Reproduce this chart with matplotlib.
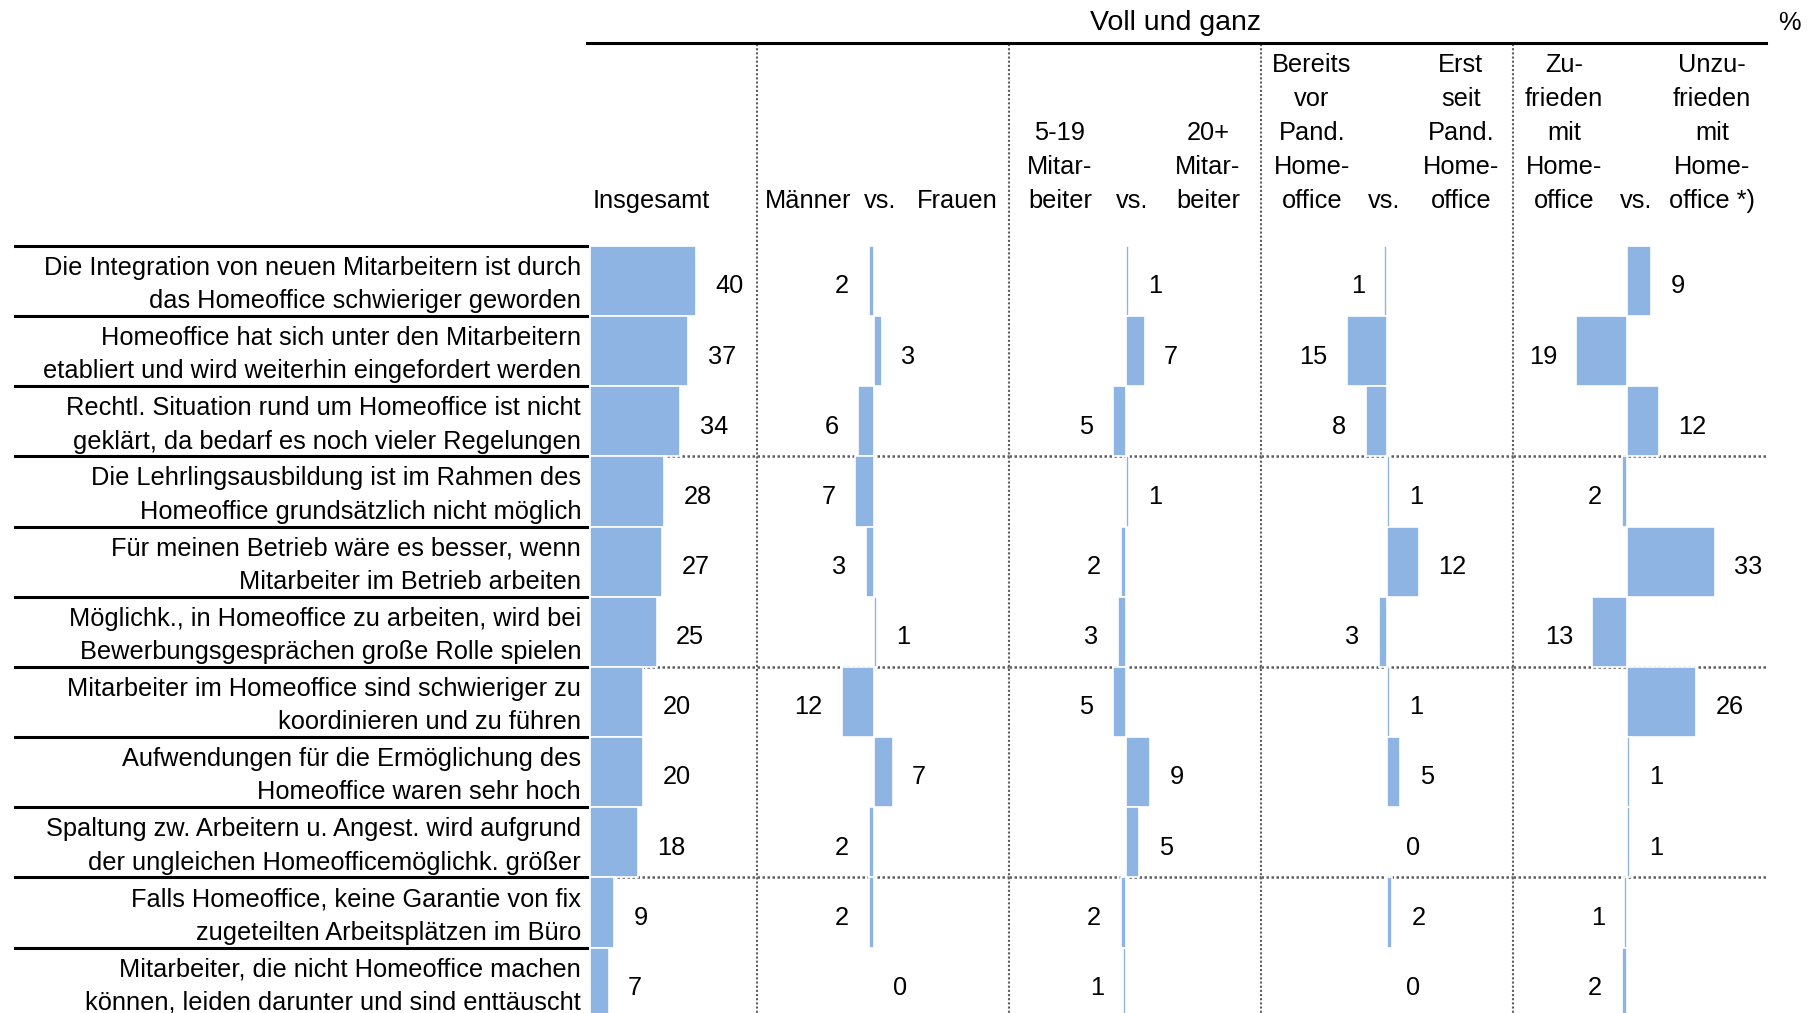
import matplotlib.pyplot as plt
from matplotlib.lines import Line2D

plt.rcParams['font.family'] = ['Liberation Sans', 'DejaVu Sans']

# Aussagen (Zeilen) und Werte in %
aussagen = [
    "Die Integration von neuen Mitarbeitern ist durch\ndas Homeoffice schwieriger geworden",
    "Homeoffice hat sich unter den Mitarbeitern\netabliert und wird weiterhin eingefordert werden",
    "Rechtl. Situation rund um Homeoffice ist nicht\ngeklärt, da bedarf es noch vieler Regelungen",
    "Die Lehrlingsausbildung ist im Rahmen des\nHomeoffice grundsätzlich nicht möglich",
    "Für meinen Betrieb wäre es besser, wenn\nMitarbeiter im Betrieb arbeiten",
    "Möglichk., in Homeoffice zu arbeiten, wird bei\nBewerbungsgesprächen große Rolle spielen",
    "Mitarbeiter im Homeoffice sind schwieriger zu\nkoordinieren und zu führen",
    "Aufwendungen für die Ermöglichung des\nHomeoffice waren sehr hoch",
    "Spaltung zw. Arbeitern u. Angest. wird aufgrund\nder ungleichen Homeofficemöglichk. größer",
    "Falls Homeoffice, keine Garantie von fix\nzugeteilten Arbeitsplätzen im Büro",
    "Mitarbeiter, die nicht Homeoffice machen\nkönnen, leiden darunter und sind enttäuscht",
]
insgesamt       = [40, 37, 34, 28, 27, 25, 20, 20, 18, 9, 7]
maenner_frauen  = [-2, 3, -6, -7, -3, 1, -12, 7, -2, -2, 0]
betriebsgroesse = [1, 7, -5, 1, -2, -3, -5, 9, 5, -2, -1]
pandemie        = [-1, -15, -8, 1, 12, -3, 1, 5, 0, 2, 0]
zufriedenheit   = [9, -19, 12, -2, 33, -13, 26, 1, 1, -1, -2]

# Kopfzeilen
kopf = [
    ("Insgesamt", 593, "left"),
    ("Männer", 808, "center"), ("vs.", 880, "center"), ("Frauen", 957, "center"),
    ("5-19\nMitar-\nbeiter", 1060, "center"), ("vs.", 1132, "center"),
    ("20+\nMitar-\nbeiter", 1208, "center"),
    ("Bereits\nvor\nPand.\nHome-\noffice", 1312, "center"), ("vs.", 1384, "center"),
    ("Erst\nseit\nPand.\nHome-\noffice", 1461, "center"),
    ("Zu-\nfrieden\nmit\nHome-\noffice", 1564, "center"), ("vs.", 1636, "center"),
    ("Unzu-\nfrieden\nmit\nHome-\noffice *)", 1712, "center"),
]

W, H = 1812, 1013
FS = 18.3
BLAU = "#8DB4E2"
TOP, ROW = 246, 70.15
N = len(aussagen)
SCALE = 2.66  # Pixel pro Prozentpunkt
DY = 3.5      # Text etwas tiefer setzen

fig = plt.figure(figsize=(W / 100, H / 100), dpi=100)


def fx(px):
    return px / W


def fy(py):
    return 1 - (py + DY) / H


# Panels: Werte, linker Rand, rechter Rand, Nullpunkt (Pixel)
panels = [
    (insgesamt, 587, 757, 590),
    (maenner_frauen, 757, 1009, 874),
    (betriebsgroesse, 1009, 1261, 1126),
    (pandemie, 1261, 1513, 1387),
    (zufriedenheit, 1513, 1766, 1627),
]

for werte, links, rechts, null in panels:
    ax = fig.add_axes([links / W, 1 - (TOP + N * ROW) / H, (rechts - links) / W, N * ROW / H])
    ax.set_xlim((links - null) / SCALE, (rechts - null) / SCALE)
    ax.set_ylim(N - 0.5, -0.5)
    ax.axis("off")
    for y in (2.5, 5.5, 8.5):
        ax.axhline(y, color="#5e5e5e", lw=1.8, ls=(0, (1, 1)), zorder=1)
    ax.barh(range(N), werte, height=1.0, color=BLAU, edgecolor="white", linewidth=1.2, zorder=2)
    for i, v in enumerate(werte):
        rechtsrum = v >= 0
        ax.annotate(str(abs(v)), xy=(v, i), xytext=(14 if rechtsrum else -14, -3.8),
                    textcoords="offset points", ha="left" if rechtsrum else "right",
                    va="center", fontsize=FS, zorder=3)

# Zeilenbeschriftungen und schwarze Trennlinien
for i, txt in enumerate(aussagen):
    yc = TOP + (i + 0.5) * ROW
    zeilen = txt.split("\n")
    for k, z in enumerate(zeilen):
        fig.text(fx(581), fy(yc + (k - (len(zeilen) - 1) / 2) * 33.5), z,
                 ha="right", va="center", fontsize=FS)
    ytop = 1 - (TOP + i * ROW) / H
    fig.add_artist(Line2D([fx(15), fx(587)], [ytop, ytop], color="black", lw=2.2))

# senkrechte gepunktete Trennlinien
for x in (757, 1009, 1261, 1513):
    fig.add_artist(Line2D([fx(x), fx(x)], [1 - 44 / H, 0], color="#5e5e5e", lw=1.5, ls=(0, (1, 1))))

# Überschrift
fig.add_artist(Line2D([fx(587), fx(1766)], [1 - 43 / H, 1 - 43 / H], color="black", lw=2.2))
fig.text(fx(1175), fy(20), "Voll und ganz", ha="center", va="center", fontsize=20.5)
fig.text(fx(1789), fy(19), "%", ha="center", va="center", fontsize=FS)

for txt, x, ha in kopf:
    zeilen = txt.split("\n")
    for k, z in enumerate(reversed(zeilen)):
        fig.text(fx(x), fy(197.6 - k * 34.1), z, ha=ha, va="center", fontsize=FS)

fig.savefig("out.png", dpi=100)
